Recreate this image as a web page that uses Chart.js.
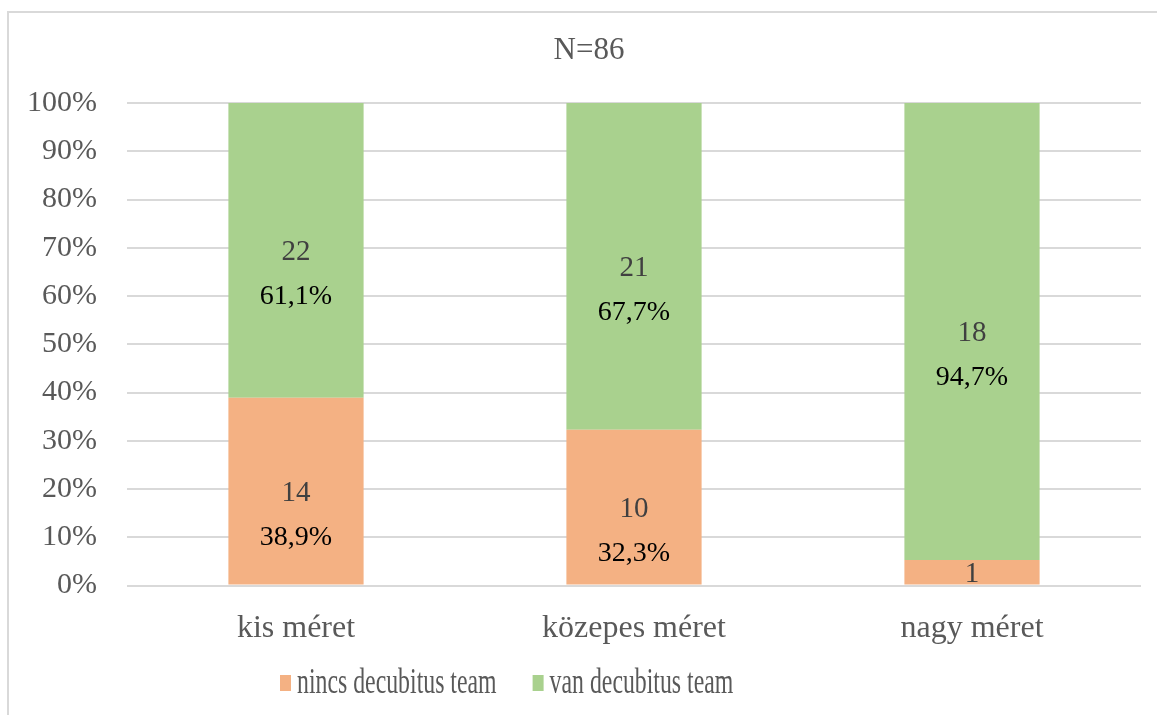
<!DOCTYPE html>
<html>
<head>
<meta charset="utf-8">
<script src="https://cdn.jsdelivr.net/npm/chart.js@4/dist/chart.umd.min.js"></script>
<style>
  html, body { margin: 0; padding: 0; background: #fff; }
  #frame {
    position: absolute; left: 7px; top: 11px; width: 1160px; height: 720px;
    border-left: 2px solid #D9D9D9; border-top: 2px solid #D9D9D9;
  }
  #wrap { position: absolute; left: 0; top: 0; width: 1157px; height: 715px; }
</style>
</head>
<body>
<div id="frame"></div>
<div id="wrap"><canvas id="chart"></canvas></div>
<script>
const categories = ['kis méret', 'közepes méret', 'nagy méret'];
const seriesNames = ['nincs decubitus team', 'van decubitus team'];
const nincsCounts = [14, 10, 1];
const vanCounts = [22, 21, 18];
const nincsPct = [38.9, 32.3, 5.3];
const vanPct = [61.1, 67.7, 94.7];
const showPct = [[true, true, false], [true, true, true]];
const yTicks = [0, 10, 20, 30, 40, 50, 60, 70, 80, 90, 100];
const titleText = 'N=86';

const serif = "'Liberation Serif', 'Times New Roman', serif";
const counts = [nincsCounts, vanCounts];

// count + percentage labels inside the segments
const labelPlugin = {
    id: 'segLabels',
    afterDatasetsDraw(chart) {
        const ctx = chart.ctx;
        ctx.save();
        ctx.textAlign = 'center';
        ctx.textBaseline = 'middle';
        chart.data.datasets.forEach((ds, di) => {
            const meta = chart.getDatasetMeta(di);
            meta.data.forEach((bar, i) => {
                const mid = (bar.y + bar.base) / 2;
                ctx.fillStyle = '#404040';
                ctx.font = '29px ' + serif;
                ctx.fillText(String(counts[di][i]), bar.x, mid + 2);
                if (showPct[di][i]) {
                    ctx.fillStyle = '#000';
                    ctx.font = '28px ' + serif;
                    ctx.fillText(ds.data[i].toFixed(1).replace('.', ',') + '%', bar.x, mid + 46);
                }
            });
        });
        ctx.restore();
    }
};

// title (centred on the whole figure, not the canvas) and narrow legend
const frameTextPlugin = {
    id: 'frameText',
    afterDraw(chart) {
        const ctx = chart.ctx;
        ctx.save();
        ctx.textBaseline = 'middle';
        ctx.textAlign = 'center';
        ctx.fillStyle = '#595959';
        ctx.font = '31px ' + serif;
        ctx.fillText(titleText, 589, 51);

        const squeeze = 0.68;
        const cy = 683;
        ctx.textAlign = 'left';
        ctx.font = '35px ' + serif;
        const items = chart.data.datasets.map(ds => ({
            text: ds.label,
            color: ds.backgroundColor,
            w: ctx.measureText(ds.label).width * squeeze
        }));
        let x = 280;
        items.forEach(it => {
            ctx.fillStyle = it.color;
            ctx.fillRect(x, cy - 8, 11, 16);
            x += 17;
            ctx.save();
            ctx.translate(x, cy + 1);
            ctx.scale(squeeze, 1);
            ctx.fillStyle = '#595959';
            ctx.fillText(it.text, 0, 0);
            ctx.restore();
            x += it.w + 36;
        });
        ctx.restore();
    }
};

new Chart(document.getElementById('chart'), {
    type: 'bar',
    data: {
        labels: categories,
        datasets: [
            { label: seriesNames[0], data: nincsPct, backgroundColor: '#F4B183' },
            { label: seriesNames[1], data: vanPct, backgroundColor: '#A9D18E' }
        ]
    },
    options: {
        responsive: true,
        maintainAspectRatio: false,
        animation: false,
        categoryPercentage: 1,
        barPercentage: 0.4,
        layout: { padding: { top: 103, right: 16, bottom: 43, left: 0 } },
        plugins: {
            title: { display: false },
            legend: { display: false },
            tooltip: { enabled: false }
        },
        scales: {
            x: {
                stacked: true,
                grid: { display: false, drawTicks: false },
                border: { display: false },
                ticks: { color: '#595959', font: { family: serif, size: 32 }, padding: 24 }
            },
            y: {
                stacked: true,
                min: 0,
                max: 100,
                afterFit(scale) { scale.width = 127; },
                afterBuildTicks(scale) { scale.ticks = yTicks.map(v => ({ value: v })); },
                grid: { color: '#D9D9D9', lineWidth: 2, drawTicks: false },
                border: { display: false },
                ticks: {
                    color: '#595959',
                    font: { family: serif, size: 30 },
                    padding: 30,
                    callback: v => v + '%'
                }
            }
        }
    },
    plugins: [labelPlugin, frameTextPlugin]
});
</script>
</body>
</html>
